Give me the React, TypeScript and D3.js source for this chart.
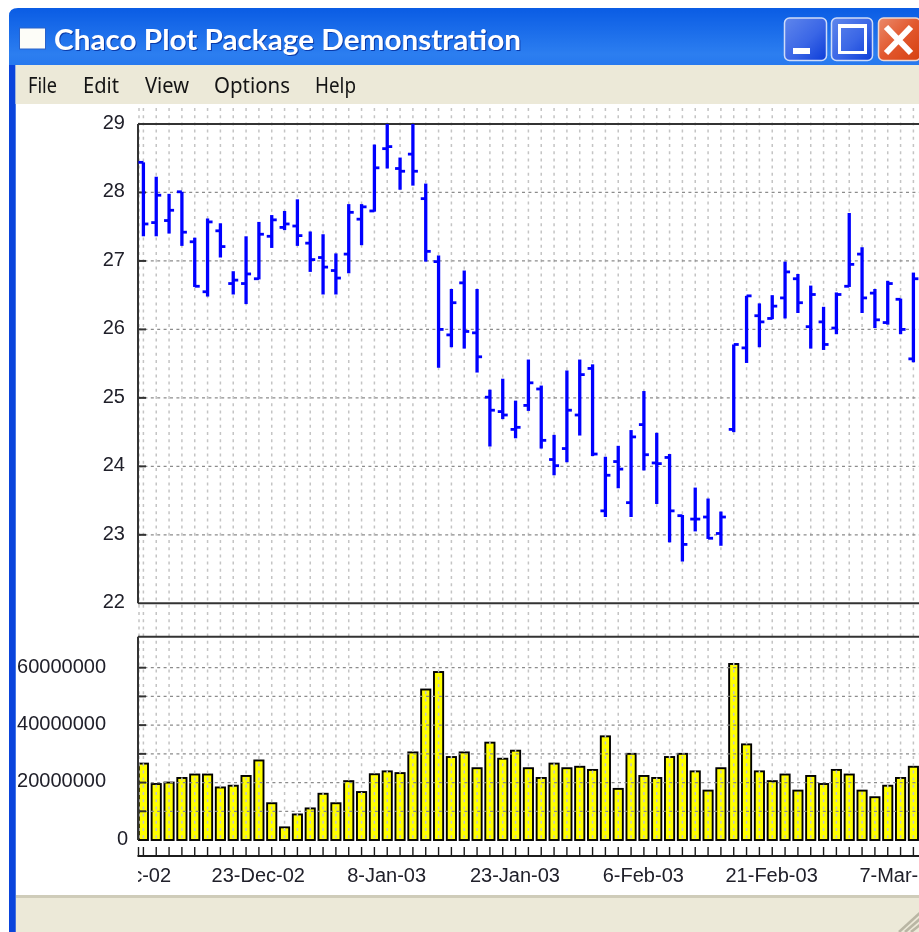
import React from "react";
import * as d3 from "d3";

const titleText = "Chaco Plot Package Demonstration";
const menuLabels = ["File", "Edit", "View", "Options", "Help"];
const menuStarts = [28, 83, 145, 214, 315];
const menuWidths = [29, 36, 44, 76, 41];

const opens = [28.44,27.56,27.59,28.01,27.28,26.55,27.44,26.67,26.67,26.74,27.36,27.49,27.51,27.26,27.05,26.86,27.10,27.61,27.73,28.64,28.35,28.56,27.91,26.99,25.92,26.68,25.95,25.01,24.80,24.54,24.89,25.13,24.10,24.26,24.75,25.43,23.35,24.07,23.47,24.61,24.05,24.13,23.28,23.23,23.26,23.02,24.54,25.73,26.20,26.16,26.46,26.74,26.04,26.11,26.02,26.63,27.10,26.53,26.10,26.44,25.57];
const highs = [28.44,28.23,27.98,28.01,27.34,27.62,27.55,26.85,27.36,27.57,27.67,27.73,27.90,27.43,27.39,27.11,27.83,27.83,28.70,29.0,28.51,29.0,28.13,27.08,26.59,26.86,26.59,25.12,25.28,24.96,25.56,25.18,24.46,25.40,25.56,25.49,24.14,24.30,24.53,25.10,24.49,24.18,23.29,23.69,23.53,23.34,25.78,26.49,26.38,26.50,26.99,26.81,26.64,26.33,26.54,27.70,27.20,26.59,26.71,26.45,26.83];
const lows = [27.36,27.36,27.40,27.22,26.62,26.48,27.05,26.51,26.37,26.73,27.19,27.45,27.22,26.84,26.51,26.51,26.82,27.23,27.72,28.35,28.04,28.10,26.99,25.44,25.74,25.72,25.37,24.29,24.69,24.41,24.81,24.26,23.87,24.06,24.45,24.15,23.26,23.68,23.26,23.94,23.45,22.89,22.61,23.05,22.94,22.84,24.50,25.51,25.74,26.15,26.16,26.24,25.72,25.70,25.93,26.62,26.24,26.02,26.07,25.93,25.52];
const closes = [27.54,27.96,27.74,27.42,26.63,27.57,27.21,26.72,26.81,27.39,27.60,27.54,27.37,27.02,26.91,26.75,27.71,27.79,28.36,28.67,28.31,28.31,27.14,26.0,26.39,25.97,25.60,24.82,24.75,24.57,25.22,24.38,24.01,24.82,25.34,24.18,23.87,23.96,24.43,24.17,24.04,23.35,22.86,23.23,22.95,23.26,25.78,26.49,26.11,26.34,26.84,26.39,26.51,25.78,26.51,26.95,26.46,26.14,26.67,26.0,26.74];
const volumes = [26.6,19.5,20.0,21.6,22.8,22.8,18.3,18.9,22.3,27.7,12.8,4.4,8.9,11.0,16.1,12.8,20.5,16.7,22.9,23.9,23.3,30.5,52.4,58.5,28.9,30.5,25.0,33.9,28.3,31.1,25.0,21.6,26.6,25.0,25.5,24.4,36.1,17.8,30.0,22.3,21.6,28.9,30.0,23.9,17.2,25.0,61.3,33.3,23.9,20.5,22.8,17.2,22.3,19.5,24.4,22.8,17.2,14.9,18.9,21.6,25.5].map((v) => v * 1e6);

const priceTicks = [22, 23, 24, 25, 26, 27, 28, 29];
const volumeGridTicks = [10, 20, 30, 40, 50, 60].map((v) => v * 1e6);
const volumeLabelTicks = [0, 20, 40, 60].map((v) => v * 1e6);
const dateLabels = ["9-Dec-02", "23-Dec-02", "8-Jan-03", "23-Jan-03", "6-Feb-03", "21-Feb-03", "7-Mar-03"];
const dateLabelBars = [-1, 9, 19, 29, 39, 49, 59];

const W = 919;
const H = 932;
const indices = d3.range(opens.length);
const x = d3.scaleLinear().domain([0, 60]).range([143.4, 913.4]);
const yPrice = d3.scaleLinear().domain([22, 29]).range([603.3, 124]);
const yVol = d3.scaleLinear().domain([0, 60e6]).range([840, 667.7]);

const AXIS = "#333333";
const TEXT = "#20202a";
const sans = "'Liberation Sans', Arial, sans-serif";

export default function App() {
  return (
    <svg
      width={W}
      height={H}
      viewBox={`0 0 ${W} ${H}`}
      style={{ position: "absolute", left: 0, top: 0, filter: "blur(0.4px)", background: "#fff" }}
    >
      <defs>
        <linearGradient id="titleGrad" x1="0" y1="0" x2="0" y2="1">
          <stop offset="0" stopColor="#0a5ce4" />
          <stop offset="0.05" stopColor="#2c7ef0" />
          <stop offset="0.13" stopColor="#0a5ce6" />
          <stop offset="0.55" stopColor="#0052dc" />
          <stop offset="0.9" stopColor="#005ae8" />
          <stop offset="1" stopColor="#003cb8" />
        </linearGradient>
        <linearGradient id="btnBlue" x1="0" y1="0" x2="1" y2="1">
          <stop offset="0" stopColor="#5f86ec" />
          <stop offset="0.55" stopColor="#3a66e6" />
          <stop offset="1" stopColor="#0c3cd8" />
        </linearGradient>
        <linearGradient id="btnRed" x1="0" y1="0" x2="1" y2="1">
          <stop offset="0" stopColor="#ea8a6c" />
          <stop offset="0.5" stopColor="#e2582e" />
          <stop offset="1" stopColor="#d64010" />
        </linearGradient>
        <clipPath id="plotClip">
          <rect x={138} y={100} width={W - 138} height={800} />
        </clipPath>
      </defs>

      {/* window frame */}
      <path d={`M9 ${H} V16 Q9 8 18 8 H${W} V65 H15.5 V${H} Z`} fill="url(#titleGrad)" />
      <rect x={9} y={65} width={6.5} height={H - 65} fill="#0a44dc" />
      <rect x={15.5} y={65} width={W - 15.5} height={39} fill="#ece9d8" />
      <rect x={16} y={895} width={W - 16} height={H - 895} fill="#ece9d8" />
      <rect x={16} y={895} width={W - 16} height={3} fill="#cfccb9" />

      {/* title bar */}
      <rect x={19.5} y={28} width={26} height={21} fill="#fdfdf8" stroke="#2a62c8" strokeWidth={1} />
      <text
        x={54}
        y={50}
        fontFamily="Lato, 'Open Sans', sans-serif"
        fontWeight={700}
        fontSize={28}
        fill="#fff"
        textLength={467}
        lengthAdjust="spacingAndGlyphs"
        style={{ filter: "drop-shadow(1px 1px 0 #0a3aa8)" }}
      >
        {titleText}
      </text>
      <rect x={784.5} y={18} width={42} height={42.5} rx={5} fill="url(#btnBlue)" stroke="#cfdcf8" strokeWidth={1.5} />
      <rect x={793} y={48} width={17} height={6} fill="#fff" />
      <rect x={831.5} y={18} width={41} height={42.5} rx={5} fill="url(#btnBlue)" stroke="#cfdcf8" strokeWidth={1.5} />
      <rect x={839.5} y={26} width={26} height={26.5} fill="none" stroke="#fff" strokeWidth={3} />
      <rect x={838} y={24} width={29} height={4} fill="#fff" />
      <rect x={878.5} y={18} width={42} height={42.5} rx={5} fill="url(#btnRed)" stroke="#f0d8d0" strokeWidth={1.5} />
      <path d="M886 27 L911 53 M911 27 L886 53" stroke="#fff" strokeWidth={6} fill="none" />

      {/* menu */}
      {menuLabels.map((m, i) => (
        <text
          key={m}
          x={menuStarts[i]}
          y={93}
          fontFamily="'Noto Sans', sans-serif"
          fontSize={21.5}
          fill="#141414"
          textLength={menuWidths[i]}
          lengthAdjust="spacingAndGlyphs"
        >
          {m}
        </text>
      ))}

      {/* volume bars under the grid */}
      <g clipPath="url(#plotClip)">
        {indices.map((i) => (
          <rect
            key={i}
            x={x(i) - 4.6}
            y={yVol(volumes[i])}
            width={9.2}
            height={yVol(0) - yVol(volumes[i])}
            fill="#ffff00"
            stroke="#000"
            strokeWidth={1.9}
          />
        ))}
      </g>

      {/* vertical dotted grid */}
      {[139, ...indices.map((i) => x(i))].map((gx, i) => (
        <line key={i} x1={gx} x2={gx} y1={108} y2={840} stroke="#c4c4c4" strokeWidth={1.5} strokeDasharray="3 4.2" />
      ))}

      {/* horizontal dashed grid */}
      {priceTicks.slice(1, -1).map((t) => (
        <g key={t}>
          <line x1={138} x2={W} y1={yPrice(t)} y2={yPrice(t)} stroke="#8c8c8c" strokeWidth={1.3} strokeDasharray="3 3.4" />
          <line x1={138} x2={146} y1={yPrice(t)} y2={yPrice(t)} stroke={AXIS} strokeWidth={2} />
        </g>
      ))}
      {volumeGridTicks.map((t) => (
        <g key={t}>
          <line x1={138} x2={W} y1={yVol(t)} y2={yVol(t)} stroke="#8c8c8c" strokeWidth={1.3} strokeDasharray="3 3.4" />
          <line x1={138} x2={146} y1={yVol(t)} y2={yVol(t)} stroke={AXIS} strokeWidth={2} />
        </g>
      ))}

      {/* axis frames */}
      <line x1={138} x2={W} y1={yPrice(29)} y2={yPrice(29)} stroke={AXIS} strokeWidth={2} />
      <line x1={138} x2={W} y1={yPrice(22)} y2={yPrice(22)} stroke={AXIS} strokeWidth={2} />
      <line x1={138} x2={138} y1={yPrice(29)} y2={yPrice(22)} stroke={AXIS} strokeWidth={2} />
      <line x1={138} x2={W} y1={636.7} y2={636.7} stroke={AXIS} strokeWidth={2} />
      <line x1={138} x2={138} y1={636.7} y2={840} stroke={AXIS} strokeWidth={2} />
      <line x1={137.5} x2={W} y1={856} y2={856} stroke="#1c1c1c" strokeWidth={2} />
      {[138.5, ...indices.map((i) => x(i))].map((tx, i) => (
        <line key={i} x1={tx} x2={tx} y1={847} y2={856} stroke="#1c1c1c" strokeWidth={1.4} />
      ))}

      {/* OHLC bars */}
      <g clipPath="url(#plotClip)" stroke="#0000ff" fill="none">
        {indices.map((i) => (
          <g key={i}>
            <line x1={x(i)} x2={x(i)} y1={yPrice(highs[i])} y2={yPrice(lows[i])} strokeWidth={3.3} />
            <line x1={x(i) - 5} x2={x(i)} y1={yPrice(opens[i])} y2={yPrice(opens[i])} strokeWidth={2.8} />
            <line x1={x(i)} x2={x(i) + 5} y1={yPrice(closes[i])} y2={yPrice(closes[i])} strokeWidth={2.8} />
          </g>
        ))}
      </g>

      {/* axis labels */}
      {priceTicks.map((t) => (
        <text key={t} x={125} y={yPrice(t) - 2.3} dy="0.36em" textAnchor="end" fontFamily={sans} fontSize={20} fill={TEXT}>
          {t}
        </text>
      ))}
      {volumeLabelTicks.map((t) => (
        <text
          key={t}
          x={t === 0 ? 128 : 106}
          y={yVol(t) - 2.3}
          dy="0.36em"
          textAnchor="end"
          fontFamily={sans}
          fontSize={20}
          fill={TEXT}
        >
          {d3.format("d")(t)}
        </text>
      ))}
      <g clipPath="url(#plotClip)">
        {dateLabels.map((d, i) => (
          <text key={d} x={x(dateLabelBars[i]) - 0.6} y={882} textAnchor="middle" fontFamily={sans} fontSize={20} fill={TEXT}>
            {d}
          </text>
        ))}
      </g>

      {/* resize grip */}
      {[0, 6, 12].map((o) => (
        <line key={o} x1={899 + o} x2={W + 2} y1={H} y2={912 + o} stroke="#b9b6a4" strokeWidth={2.6} />
      ))}
    </svg>
  );
}
